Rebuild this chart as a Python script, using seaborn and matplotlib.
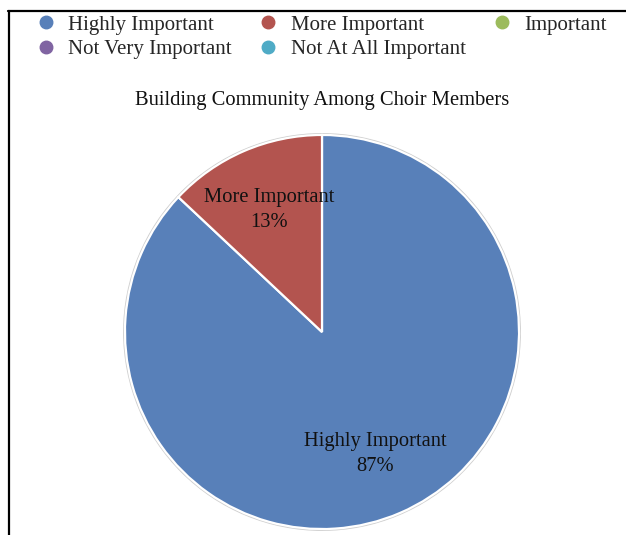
import matplotlib
matplotlib.use("Agg")
import matplotlib.pyplot as plt
from matplotlib.lines import Line2D
from matplotlib.patches import Circle
import seaborn as sns

# Survey responses for one question
categories = ["Highly Important", "More Important", "Important",
              "Not Very Important", "Not At All Important"]
shares = [87, 13, 0, 0, 0]
colors = ["#5880b9", "#b3544f", "#9cbb5c", "#8064a2", "#4fabc6"]
title = "Building Community Among Choir Members"

sns.set_theme(style="white")
plt.rcParams["font.family"] = ["Liberation Serif", "DejaVu Serif"]
palette = sns.color_palette(colors)

fig = plt.figure(figsize=(6.26, 5.35), dpi=100)
W, H = 626, 535
R = 199
cx, cy = 322, 332
ax = fig.add_axes([(cx - R) / W, (H - cy - R) / H, 2 * R / W, 2 * R / H])

# only the non-empty slices are drawn
vals = [v for v in shares if v > 0]
cols = [palette[i] for i, v in enumerate(shares) if v > 0]
labs = [f"{c}\n{v}%" for c, v in zip(categories, shares) if v > 0]

wedges, texts = ax.pie(vals, colors=cols, startangle=90, counterclock=False,
                       labels=labs, labeldistance=0.675,
                       wedgeprops=dict(edgecolor="white", linewidth=1.6),
                       textprops=dict(fontsize=14.8, color="#111111",
                                      ha="center", va="center",
                                      multialignment="center",
                                      linespacing=1.4))
ax.add_patch(Circle((0, 0), 1.004, fill=False, edgecolor="#cfcfcf",
                    linewidth=1.6, zorder=0))
ax.set_xlim(-1.01, 1.01)
ax.set_ylim(-1.01, 1.01)
ax.set_aspect("equal")
ax.axis("off")

fig.text(cx / W, 1 - 101 / H, title, ha="center", va="center",
         fontsize=14.8, color="#111111")

# legend, row-major order across three columns
order = [0, 3, 1, 4, 2]
handles = [Line2D([], [], linestyle="none", marker="o", markersize=9,
                  markerfacecolor=palette[i], markeredgecolor=palette[i])
           for i in order]
fig.legend(handles, [categories[i] for i in order], ncol=3,
           loc="upper left", bbox_to_anchor=(33 / W, 1 - 15 / H),
           frameon=False, fontsize=15, handlelength=1.2, handletextpad=0.5,
           columnspacing=1.12, labelspacing=0.25, borderaxespad=0,
           borderpad=0)

# border lines of the surrounding box
fig.add_artist(Line2D([8 / W, 1], [1 - 11 / H, 1 - 11 / H], color="black",
                      linewidth=1.6, transform=fig.transFigure))
fig.add_artist(Line2D([9 / W, 9 / W], [0, 1 - 11 / H], color="black",
                      linewidth=1.6, transform=fig.transFigure))

fig.savefig("out.png", dpi=100, facecolor="white")
